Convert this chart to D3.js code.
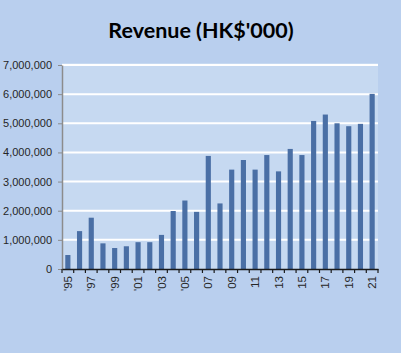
<!DOCTYPE html>
<html><head><meta charset="utf-8">
<script src="https://cdn.jsdelivr.net/npm/d3@7"></script>
<style>body{margin:0;background:#b9cfee;}svg{display:block;}</style>
</head><body>
<script>
const years = ["1995","1996","1997","1998","1999","2000","2001","2002","2003","2004","2005","2006","2007","2008","2009","2010","2011","2012","2013","2014","2015","2016","2017","2018","2019","2020","2021"];
const revenue = [480000,1300000,1760000,880000,720000,780000,920000,920000,1170000,1990000,2350000,1960000,3880000,2250000,3410000,3740000,3410000,3910000,3350000,4120000,3910000,5080000,5300000,5000000,4900000,4980000,6010000];
const yTicks = [0,1000000,2000000,3000000,4000000,5000000,6000000,7000000];
const xLabels = ["'95","","'97","","'99","","'01","","'03","","'05","","07","","09","","11","","13","","15","","17","","19","","21"];
const title = "Revenue (HK$'000)";

const W = 401, H = 353;
const m = {left: 62, right: 23, top: 65, bottom: 84};
const svg = d3.select("body").append("svg").attr("width", W).attr("height", H);
svg.append("rect").attr("width", W).attr("height", H).attr("fill", "#b9cfee");

const x = d3.scaleBand().domain(years).range([m.left, W - m.right]).paddingInner(0.56).paddingOuter(0.28);
const y = d3.scaleLinear().domain([0, 7000000]).range([H - m.bottom, m.top]);

svg.append("rect").attr("x", m.left).attr("y", m.top - 2).attr("width", W - m.right - m.left).attr("height", H - m.bottom - m.top + 2).attr("fill", "#c6d9f1");

// gridlines
svg.append("g").selectAll("line").data(yTicks.filter(d => d > 0)).join("line")
  .attr("x1", m.left).attr("x2", W - m.right)
  .attr("y1", d => y(d)).attr("y2", d => y(d))
  .attr("stroke", "#ffffff").attr("stroke-width", 2);

svg.append("text").attr("x", 201).attr("y", 38).attr("text-anchor", "middle")
  .attr("font-family", "Lato, 'Open Sans', sans-serif").attr("font-weight", "bold").attr("font-size", 21.5)
  .attr("fill", "#000").text(title);

// bars
svg.append("g").selectAll("rect").data(years).join("rect")
  .attr("x", d => x(d)).attr("width", x.bandwidth())
  .attr("y", (d, i) => y(revenue[i])).attr("height", (d, i) => y(0) - y(revenue[i]))
  .attr("fill", "#4a6fa5");

// y axis
const yAxis = d3.axisLeft(y).tickValues(yTicks).tickFormat(d3.format(",")).tickSize(4).tickSizeOuter(0);
const gy = svg.append("g").attr("transform", `translate(${m.left},0)`).call(yAxis);
gy.select(".domain").attr("stroke", "#8c8c8c").attr("stroke-width", 1.5);
gy.selectAll(".tick line").attr("stroke", "#8c8c8c");
gy.selectAll("text").attr("font-family", "'Liberation Sans', Arial, sans-serif").attr("font-size", 11).attr("fill", "#262626").attr("x", -10);

// x axis
const xAxis = d3.axisBottom(x).tickFormat((d, i) => xLabels[i]).tickSize(0).tickSizeOuter(0);
const gx = svg.append("g").attr("transform", `translate(0,${H - m.bottom})`).call(xAxis);
gx.select(".domain").attr("stroke", "#1a1a1a").attr("stroke-width", 1.5);
gx.selectAll(".tick text")
  .attr("font-family", "'Liberation Sans', Arial, sans-serif").attr("font-size", 11.5).attr("fill", "#262626")
  .attr("transform", "rotate(-90)").attr("text-anchor", "end").attr("x", -7).attr("y", 0).attr("dy", "0.35em");
// boundary ticks
const step = x.step();
const bounds = d3.range(years.length + 1).map(i => m.left + i * step);
gx.append("g").selectAll("line").data(bounds).join("line")
  .attr("x1", d => d).attr("x2", d => d).attr("y1", 0).attr("y2", 4)
  .attr("stroke", "#1a1a1a").attr("stroke-width", 1.2);
</script>
</body></html>
